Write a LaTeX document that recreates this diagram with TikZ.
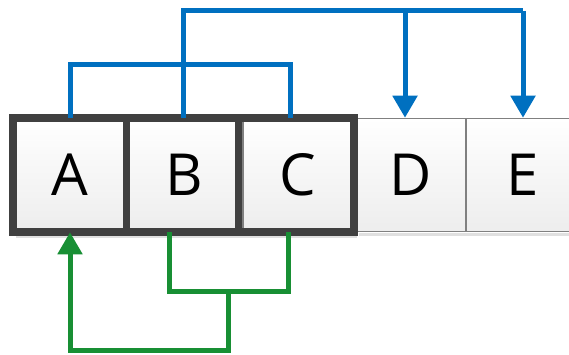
\documentclass[tikz,border=0pt]{standalone}
\usepackage{fontspec}
\setmainfont{Open Sans}
\usetikzlibrary{arrows.meta}
\definecolor{cblue}{RGB}{0,112,192}
\definecolor{cgreen}{RGB}{24,143,52}
\definecolor{cdark}{RGB}{64,64,64}
\definecolor{cgrayb}{RGB}{128,128,128}
\tikzset{
  cell/.style={draw=cgrayb, line width=1.5pt, top color=white, bottom color=black!7,
    minimum height=113pt, inner sep=0pt, font=\fontsize{58}{60}\selectfont},
  bluelink/.style={draw=cblue, line width=5pt},
  greenlink/.style={draw=cgreen, line width=5pt},
  tip/.style={-{Triangle[width=24pt,length=22pt]}},
}
\begin{document}
\begin{tikzpicture}[x=1pt,y=-1pt]
\useasboundingbox (0,0) rectangle (569,355);
% shadows
\fill[black!12] (359,233) rectangle (600,236);
\fill[black!12] (16,235) rectangle (357,238);
% cells
\node[cell, minimum width=110pt] (D) at (411,175) {D};
\node[cell, minimum width=114pt] (E) at (523,175) {E};
\node[cell, minimum width=112pt] (A) at (70,175) {A};
\node[cell, minimum width=116pt] (B) at (184,175) {B};
\node[cell, minimum width=110pt] (C) at (298,175) {C};
% highlight border
\draw[cdark, line width=8pt] (A.north west) rectangle (C.south east);
\draw[cdark, line width=7pt] (A.north east) -- (A.south east);
\draw[cdark, line width=7pt] ([xshift=-4pt]B.north east) -- ([xshift=-4pt]B.south east);
% blue connectors
\coordinate (bl) at (70,65);
\coordinate (bt) at (183,11);
\draw[bluelink, line cap=butt] (A.north) -- (A.north |- bl) -- ([xshift=-8pt]C.north |- bl) -- ([xshift=-8pt]C.north);
\draw[bluelink] ([xshift=-1pt]B.north) -- ([xshift=-1pt]B.north |- bt) -- (E.north |- bt);
\draw[bluelink, tip] (E.north |- bt) -- (E.north);
\draw[bluelink, tip] ([xshift=-6pt]D.north |- bt) -- ([xshift=-6pt]D.north);
% green connectors
\coordinate (gm) at (228,291);
\coordinate (gb) at (228,350);
\draw[greenlink] ([xshift=-15pt]B.south) -- ([xshift=-15pt]B.south |- gm) -- ([xshift=-10pt]C.south |- gm) -- ([xshift=-10pt]C.south);
\draw[greenlink, tip] (gm) -- (gb) -- (A.south |- gb) -- (A.south);
\end{tikzpicture}
\end{document}
